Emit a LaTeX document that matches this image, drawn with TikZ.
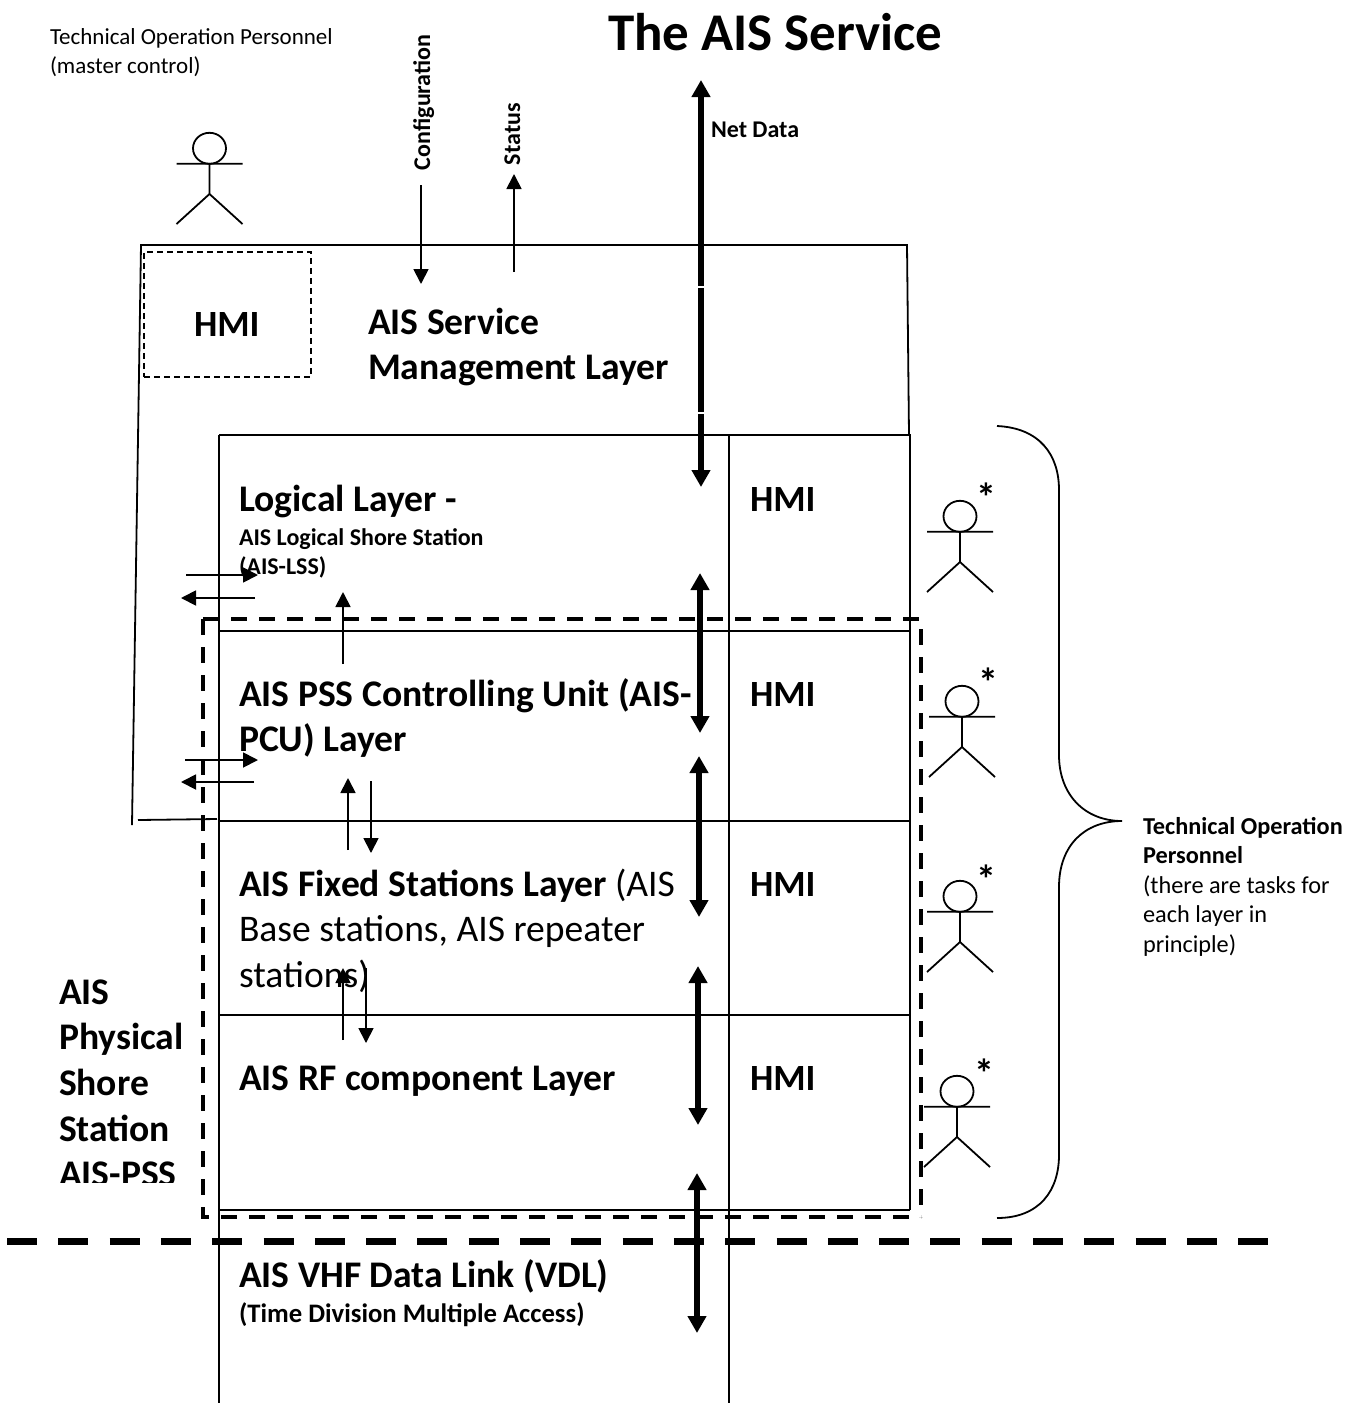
\documentclass[tikz,border=0pt]{standalone}
\usepackage{fontspec}
\setmainfont{Carlito}
\usetikzlibrary{arrows.meta,shapes.geometric}
\newcommand{\mlab}[6][]{\node[lab,#1] (#2) at (#3) {\fontsize{#4}{#5}\selectfont\begin{tabular}[t]{@{}l@{}}#6\end{tabular}};}
\newcommand{\actor}[4]{% name, x, head top, star
  \pgfmathsetmacro{\hy}{#3+15.3}\pgfmathsetmacro{\ay}{#3+30.7}\pgfmathsetmacro{\hip}{#3+61}\pgfmathsetmacro{\ft}{#3+91}
  \pgfmathsetmacro{\xl}{#2-33}\pgfmathsetmacro{\xr}{#2+33}
  \node[headshape] (#1) at (#2,\hy) {};
  \coordinate (#1a) at (\xl,\ay);\coordinate (#1b) at (\xr,\ay);\coordinate (#1n) at (#2,\ay);\coordinate (#1h) at (#2,\hip);
  \coordinate (#1l) at (\xl,\ft);\coordinate (#1r) at (\xr,\ft);
  \draw[ln] (#1a)--(#1b) (#1n)--(#1h)--(#1l) (#1h)--(#1r);
  #4}
\newcommand{\arw}[4]{% name, style, start, end
  \coordinate (#1s) at (#3);\coordinate (#1e) at (#4);\draw[#2] (#1s)--(#1e);}
\tikzset{
  ln/.style={line width=1.8pt,black},
  lab/.style={anchor=base west,inner sep=0pt,outer sep=0pt,text=black},
  headshape/.style={draw,line width=1.8pt,ellipse,minimum width=33pt,minimum height=31pt,inner sep=0pt},
  thin arrow/.style={ln,-{Triangle[length=15pt,width=15pt]}},
  thick arrow/.style={line width=5.4pt,{Triangle[length=17pt,width=18pt]}-{Triangle[length=17pt,width=18pt]}},
  starlab/.style={inner sep=0pt,font=\fontsize{40}{40}\selectfont\bfseries},
}
\begin{document}
\begin{tikzpicture}[x=1pt,y=-1pt]
\useasboundingbox (0,0) rectangle (1360,1403);
% text
\mlab{title}{608,50}{53}{53}{\bfseries The AIS Service}
\mlab{master}{50,44}{23}{29.5}{Technical Operation Personnel\\(master control)}
\node[lab,rotate=90] (config) at (430,170) {\fontsize{24}{24}\selectfont\bfseries Configuration};
\node[lab,rotate=90] (status) at (520,165) {\fontsize{24}{24}\selectfont\bfseries Status};
\mlab{netdata}{711,137}{24}{24}{\bfseries Net Data}
\mlab{hmi0}{194,336}{37}{40}{\bfseries HMI}
\mlab{mgmt}{368,334}{37.6}{45.3}{\bfseries AIS Service\\\bfseries Management Layer}
\mlab{logical}{239,511}{37.6}{40}{\bfseries Logical Layer -}
\mlab{lss}{239,545}{24}{29}{\bfseries AIS Logical Shore Station\\\bfseries (AIS-LSS)}
\mlab{hmi1}{750,511}{37}{40}{\bfseries HMI}
\mlab{pcu}{239,706}{37.6}{45.8}{\bfseries AIS PSS Controlling Unit (AIS-\\\bfseries PCU) Layer}
\mlab{hmi2}{750,706}{37}{40}{\bfseries HMI}
\mlab{fixed}{239,896}{37.6}{45.5}{\textbf{AIS Fixed Stations Layer} (AIS\\Base stations, AIS repeater\\stations)}
\mlab{hmi3}{750,896}{37}{40}{\bfseries HMI}
\mlab{rf}{239,1090}{37.6}{40}{\bfseries AIS RF component Layer}
\mlab{hmi4}{750,1090}{37}{40}{\bfseries HMI}
\mlab{vdl}{239,1287}{37.6}{40}{\bfseries AIS VHF Data Link (VDL)}
\mlab{tdma}{239,1322}{26.7}{25}{\bfseries (Time Division Multiple Access)}
\begin{scope}
\clip (0,950) rectangle (200,1182);
\mlab{pss}{59,1004}{37.6}{45.7}{\bfseries AIS\\\bfseries Physical\\\bfseries Shore\\\bfseries Station\\\bfseries AIS-PSS}
\end{scope}
\mlab{techop}{1143,834}{24.3}{29.5}{\bfseries Technical Operation\\\bfseries Personnel\\(there are tasks for\\each layer in\\principle)}
% outer management box
\coordinate (mtl) at (141,245);\coordinate (mtr) at (907,245);\coordinate (mbl) at (132,825);
\coordinate (mbr) at (909,435);\coordinate (stubl) at (138,820);\coordinate (stubr) at (217,819);
\draw[ln] (mbl)--(mtl)--(mtr)--(mbr) (stubl)--(stubr);
\node[draw,line width=1.5pt,dash pattern=on 6pt off 4pt,anchor=north west,minimum width=167pt,minimum height=125pt,inner sep=0pt] (hmibox) at (143,251) {};
% layers
\coordinate (tl) at (219,435);\coordinate (tr) at (910,435);\coordinate (bl) at (219,1210);\coordinate (br) at (910,1210);
\coordinate (ll) at (219,1403);\coordinate (mt) at (729,435);\coordinate (mb) at (729,1403);
\draw[ln] (tl)--(tr)--(br) (tl)--(ll) (mt)--(mb);
\coordinate (l1a) at (219,631);\coordinate (l1b) at (910,631);
\coordinate (l2a) at (219,821);\coordinate (l2b) at (910,821);
\coordinate (l3a) at (219,1015);\coordinate (l3b) at (910,1015);
\draw[ln] (l1a)--(l1b) (l2a)--(l2b) (l3a)--(l3b);
\draw[line width=2.6pt] (bl)--(br);
% physical shore station box and VDL boundary
\coordinate (pa) at (203,619);\coordinate (pc) at (921,619);\coordinate (pb) at (921,1217);\coordinate (pd) at (203,1217);
\draw[line width=3.6pt,dash pattern=on 16pt off 12pt] (pa)--(pc)--(pb) (pa)--(pd)--(pb);
\coordinate (va) at (7,1241);\coordinate (vb) at (1270,1241);
\draw[line width=7pt,dash pattern=on 30pt off 21.3pt] (va)--(vb);
% thin arrows
\arw{a1}{thin arrow}{421,185}{421,284}
\arw{a2}{thin arrow}{514,272}{514,174}
\arw{a3}{thin arrow}{186,575}{258,575}
\arw{a4}{thin arrow}{255,598}{181,598}
\arw{a5}{thin arrow}{343,664}{343,592}
\arw{a6}{thin arrow}{185,760}{258,760}
\arw{a7}{thin arrow}{254,782}{181,782}
\arw{a8}{thin arrow}{348,850}{348,778}
\arw{a9}{thin arrow}{371,781}{371,853}
\arw{a10}{thin arrow}{343,1040}{343,968}
\arw{a11}{thin arrow}{366,968}{366,1043}
% thick arrows
\arw{b1}{thick arrow}{701,80}{701,487}
\coordinate (g1a) at (696,287);\coordinate (g1b) at (706,287);\coordinate (g2a) at (696,413);\coordinate (g2b) at (706,413);
\draw[white,line width=1.2pt] (g1a)--(g1b) (g2a)--(g2b);
\arw{b2}{thick arrow}{700,573}{700,733}
\arw{b3}{thick arrow}{699,756}{699,917}
\arw{b4}{thick arrow}{698,966}{698,1125}
\arw{b5}{thick arrow}{697,1173}{697,1333}
% actors
\actor{act0}{209.5}{133}{}
\actor{act1}{960}{501}{\node[starlab] (s1) at (986,497) {*};}
\actor{act2}{962}{686}{\node[starlab] (s2) at (988,682) {*};}
\actor{act3}{960}{881}{\node[starlab] (s3) at (986,879) {*};}
\actor{act4}{957}{1076}{\node[starlab] (s4) at (984,1073) {*};}
% brace
\coordinate (ba) at (997,426);\coordinate (bb) at (1059,490);\coordinate (bc) at (1059,755);\coordinate (bt) at (1122,821);
\coordinate (bd) at (1059,887);\coordinate (be) at (1059,1155);\coordinate (bf) at (997,1218);
\draw[ln] (ba) .. controls (1040,428) and (1059,455) .. (bb) -- (bc) .. controls (1059,795) and (1085,821) .. (bt)
  .. controls (1085,821) and (1059,845) .. (bd) -- (be) .. controls (1059,1190) and (1040,1218) .. (bf);
\end{tikzpicture}
\end{document}
